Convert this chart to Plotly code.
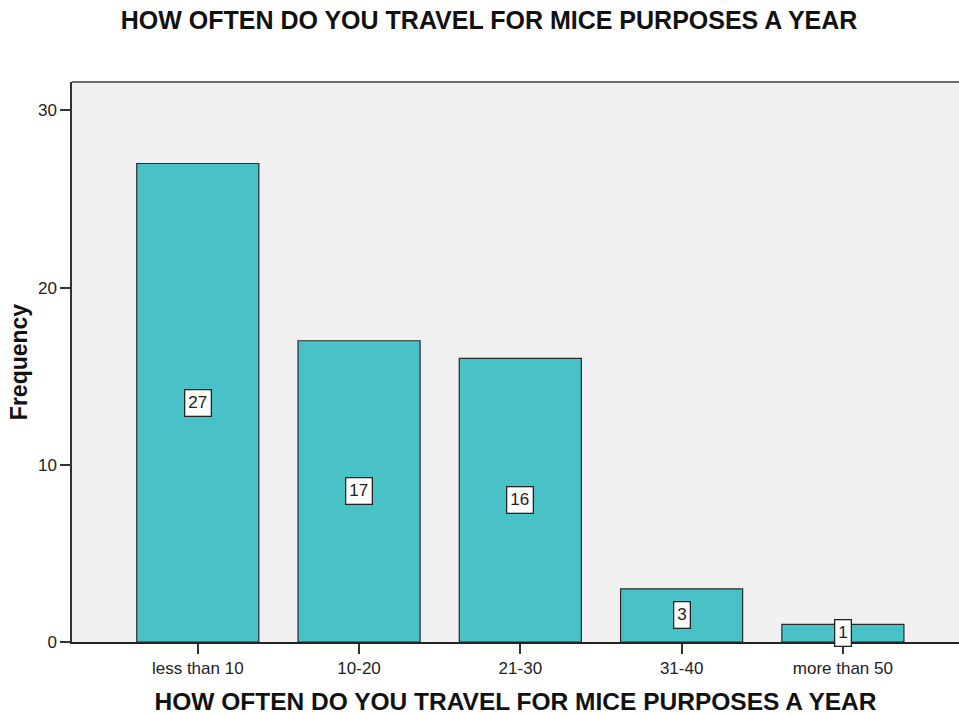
import plotly.graph_objects as go

categories = ["less than 10", "10-20", "21-30", "31-40", "more than 50"]
frequencies = [27, 17, 16, 3, 1]
y_ticks = [0, 10, 20, 30]

title_text = "HOW OFTEN DO YOU TRAVEL FOR MICE PURPOSES A YEAR"
FONT = "Liberation Sans, Arial"

fig = go.Figure()
fig.add_trace(go.Bar(
    x=list(range(len(categories))),
    y=frequencies,
    width=0.757,
    marker=dict(color="#48C2C6", line=dict(color="#2b2b2b", width=1.2)),
    hoverinfo="skip",
))

for i, v in enumerate(frequencies):
    fig.add_annotation(
        x=i, y=v / 2, text=str(v), showarrow=False,
        font=dict(family=FONT, size=17, color="#222"),
        bgcolor="white", bordercolor="#222", borderwidth=1.3, borderpad=3,
        xref="x", yref="y",
    )

# top border of plot area
fig.add_shape(type="line", xref="paper", yref="paper", x0=0, x1=1, y0=1, y1=1,
              line=dict(color="#6e6e6e", width=2))

fig.update_layout(
    width=959, height=715,
    margin=dict(l=72, r=0, t=82, b=73, autoexpand=False),
    paper_bgcolor="white",
    plot_bgcolor="#F0F0F0",
    showlegend=False,
    title=dict(text="<b>" + title_text + "</b>", x=0.51, xanchor="center",
               y=0.972, yanchor="middle",
               font=dict(family=FONT, size=25, color="#111")),
    font=dict(family=FONT, color="#222"),
)

fig.update_xaxes(
    range=[-0.78, 4.72],
    tickmode="array", tickvals=list(range(len(categories))), ticktext=categories,
    ticks="outside", ticklen=10, tickwidth=1.5, tickcolor="#333",
    showline=True, linecolor="#222", linewidth=1.5,
    showgrid=False, zeroline=False, automargin=False,
    tickfont=dict(size=17, color="#222"),
    title=dict(text="<b>" + title_text + "</b>", standoff=17,
               font=dict(family=FONT, size=24.5, color="#111")),
)
fig.update_yaxes(
    range=[0, 31.6],
    tickmode="array", tickvals=y_ticks,
    ticks="outside", ticklen=10, tickwidth=1.5, tickcolor="#333",
    showline=True, linecolor="#333", linewidth=1.5,
    showgrid=False, zeroline=False, automargin=False,
    tickfont=dict(size=17, color="#222"),
    title=dict(text="<b>Frequency</b>", standoff=4,
               font=dict(family=FONT, size=23, color="#111")),
)

fig.write_html("out.html")
